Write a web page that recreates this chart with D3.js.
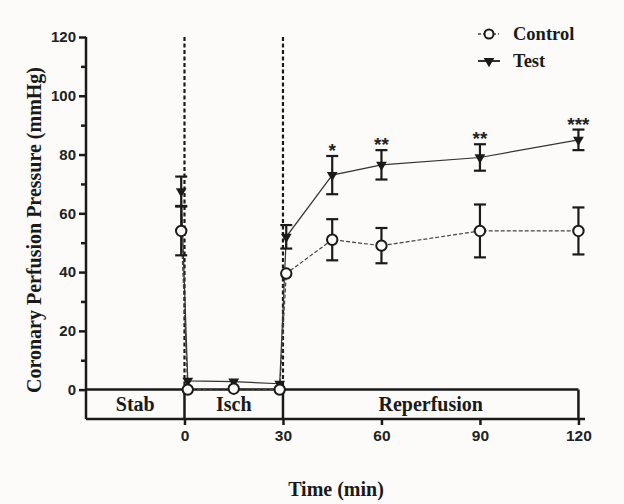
<!DOCTYPE html>
<html><head><meta charset="utf-8">
<script src="https://cdn.jsdelivr.net/npm/d3@7"></script>
<style>body{margin:0;background:#fcfbf9;}svg{display:block;}</style>
</head><body><svg id="c" width="624" height="504"></svg>
<script>
const times = [-1, 1, 15, 29, 31, 45, 60, 90, 120];
const controlMean = [54, 0, 0.3, 0, 39.5, 51, 49, 54, 54];
const controlErr  = [8.3, 0.6, 0.6, 0.6, 1, 7, 6, 9, 8];
const testMean = [67.5, 3, 2.7, 2, 52, 73, 76.5, 79, 85];
const testErr  = [5, 0.5, 0.5, 0.5, 4, 6.5, 5, 4.5, 3.5];
const sigTimes = [45, 60, 90, 120];
const sigLabels = ["*", "**", "**", "***"];
const yTicks = [0, 20, 40, 60, 80, 100, 120];
const yMinor = [10, 30, 50, 70, 90, 110];
const xTicks = [0, 30, 60, 90, 120];
const phases = [{name:"Stab", a:-30, b:0},{name:"Isch", a:0, b:30},{name:"Reperfusion", a:30, b:120}];

const svg = d3.select("#c");
svg.append("rect").attr("width",624).attr("height",504).attr("fill","#fcfbf9");
const x = d3.scaleLinear().domain([-30, 122]).range([86, 585]);
const y = d3.scaleLinear().domain([-10, 120]).range([419, 37]);
const ink = "#1a1a1a";
const serif = "'Liberation Serif','Times New Roman',serif";
const sans = "'Liberation Sans',Arial,sans-serif";

// phase box
const gBox = svg.append("g");
gBox.append("line").attr("x1",x(-30)).attr("x2",x(120)).attr("y1",y(0)).attr("y2",y(0)).attr("stroke",ink).attr("stroke-width",2.5);
[0,30,120].forEach(t=>{
  gBox.append("line").attr("x1",x(t)).attr("x2",x(t)).attr("y1",y(0)).attr("y2",y(-10)).attr("stroke",ink).attr("stroke-width",2.5);
});
phases.forEach(p=>{
  gBox.append("text").attr("x",(x(p.a)+x(p.b))/2).attr("y",(y(0)+y(-10))/2+7)
    .attr("text-anchor","middle").attr("font-family",serif).attr("font-weight","bold")
    .attr("font-size",20).attr("fill",ink).text(p.name);
});

// dashed verticals
[0,30].forEach(t=>{
  svg.append("line").attr("x1",x(t)).attr("x2",x(t)).attr("y1",y(120)).attr("y2",y(0))
   .attr("stroke",ink).attr("stroke-width",2.2).attr("stroke-dasharray","4,2.5");
});

// y axis
const yAxis = d3.axisLeft(y).tickValues(yTicks).tickSize(7).tickPadding(3).tickFormat(d3.format("d"));
const gy = svg.append("g").attr("transform",`translate(${x(-30)},0)`).call(yAxis);
gy.select(".domain").attr("d",`M0,${y(-10)}V${y(120)}`).attr("stroke",ink).attr("stroke-width",2.5);
gy.selectAll(".tick line").attr("stroke",ink).attr("stroke-width",2.5);
gy.selectAll(".tick text").attr("font-family",sans).attr("font-weight","bold").attr("font-size",15).attr("fill","#222");
const gym = svg.append("g").attr("transform",`translate(${x(-30)},0)`).call(d3.axisLeft(y).tickValues(yMinor).tickSize(5).tickFormat(""));
gym.select(".domain").remove();
gym.selectAll(".tick line").attr("stroke",ink).attr("stroke-width",2.5);

// x axis
const xAxis = d3.axisBottom(x).tickValues(xTicks).tickSize(6).tickPadding(5).tickFormat(d3.format("d"));
const gx = svg.append("g").attr("transform",`translate(0,${y(-10)})`).call(xAxis);
gx.select(".domain").attr("d",`M${x(-30)},0H${x(122)}`).attr("stroke",ink).attr("stroke-width",2.5);
gx.selectAll(".tick line").attr("stroke",ink).attr("stroke-width",2.5);
gx.selectAll(".tick text").attr("font-family",sans).attr("font-weight","bold").attr("font-size",15.5).attr("fill","#222");

// series lines
const line = (arr)=>d3.line().x((d,i)=>x(times[i])).y(d=>y(d))(arr);
svg.append("path").attr("d",line(controlMean)).attr("fill","none").attr("stroke","#444").attr("stroke-width",1.2).attr("stroke-dasharray","4,2");
svg.append("path").attr("d",line(testMean)).attr("fill","none").attr("stroke","#333").attr("stroke-width",1.2);

// error bars
function errBars(mean, err){
  const g = svg.append("g").attr("stroke",ink).attr("stroke-width",2.2);
  mean.forEach((m,i)=>{
    if (err[i] < 1.5) return;
    const cx = x(times[i]);
    g.append("line").attr("x1",cx).attr("x2",cx).attr("y1",y(m-err[i])).attr("y2",y(m+err[i]));
    [m-err[i], m+err[i]].forEach(v=>g.append("line").attr("x1",cx-6).attr("x2",cx+6).attr("y1",y(v)).attr("y2",y(v)));
  });
}
errBars(controlMean, controlErr);
errBars(testMean, testErr);

// markers
const tri = d3.symbol().type(d3.symbolTriangle).size(50);
svg.append("g").selectAll("path").data(testMean).join("path")
  .attr("d",tri).attr("transform",(d,i)=>`translate(${x(times[i])},${y(d)}) rotate(180)`).attr("fill",ink);
svg.append("g").selectAll("circle").data(controlMean).join("circle")
  .attr("cx",(d,i)=>x(times[i])).attr("cy",d=>y(d)).attr("r",5.2)
  .attr("fill","#fcfbf9").attr("stroke",ink).attr("stroke-width",2);

// significance
sigTimes.forEach((t,k)=>{
  const i = times.indexOf(t);
  svg.append("text").attr("x",x(t)).attr("y",y(testMean[i]+testErr[i])+1)
    .attr("text-anchor","middle").attr("font-family",sans).attr("font-weight","bold")
    .attr("font-size",19).attr("fill","#222").text(sigLabels[k]);
});

// legend
const lg = svg.append("g");
lg.append("line").attr("x1",478).attr("x2",499).attr("y1",34).attr("y2",34).attr("stroke","#444").attr("stroke-width",1.5).attr("stroke-dasharray","3,2");
lg.append("circle").attr("cx",489).attr("cy",34).attr("r",4.5).attr("fill","#fcfbf9").attr("stroke",ink).attr("stroke-width",2);
lg.append("text").attr("x",513).attr("y",40).attr("font-family",serif).attr("font-weight","bold").attr("font-size",18.5).attr("fill",ink).text("Control");
lg.append("line").attr("x1",478).attr("x2",500).attr("y1",61).attr("y2",61).attr("stroke",ink).attr("stroke-width",1.8);
lg.append("path").attr("d",tri).attr("transform","translate(489,61) rotate(180)").attr("fill",ink);
lg.append("text").attr("x",513).attr("y",67).attr("font-family",serif).attr("font-weight","bold").attr("font-size",18.5).attr("fill",ink).text("Test");

// axis titles
svg.append("text").attr("transform",`translate(41,${(65+395)/2}) rotate(-90)`).attr("text-anchor","middle")
  .attr("font-family",serif).attr("font-weight","bold").attr("font-size",20).attr("fill",ink).text("Coronary Perfusion Pressure (mmHg)");
svg.append("text").attr("x",336).attr("y",496).attr("text-anchor","middle")
  .attr("font-family",serif).attr("font-weight","bold").attr("font-size",20).attr("fill",ink).text("Time (min)");
</script></body></html>
